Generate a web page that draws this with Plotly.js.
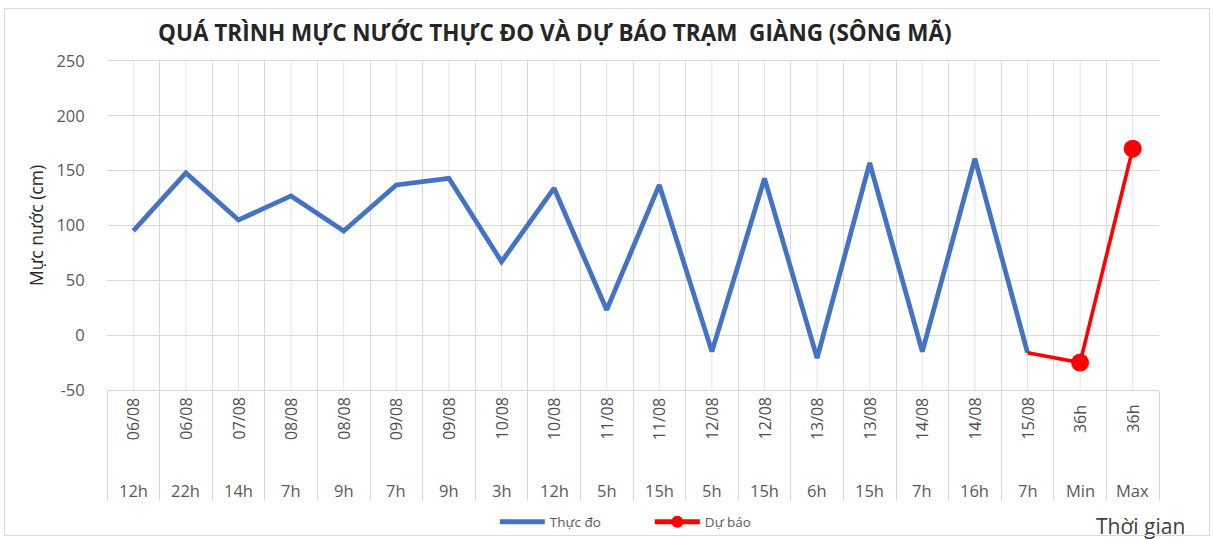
<!DOCTYPE html>
<html>
<head>
<meta charset="utf-8">
<script src="https://cdn.plot.ly/plotly-3.0.1.min.js"></script>
<style>
html,body{margin:0;padding:0;background:#fff;}
#wrap{position:relative;width:1214px;height:539px;}
#chart{width:1214px;height:539px;}
#frame{position:absolute;left:4px;top:8px;width:1206px;height:528px;border:1px solid #d9d9d9;box-sizing:border-box;pointer-events:none;}
</style>
</head>
<body>
<div id="wrap"><div id="chart"></div><div id="frame"></div></div>
<script>
// ---- data ----
const dates = ["06/08","06/08","07/08","08/08","08/08","09/08","09/08","10/08","10/08","11/08","11/08","12/08","12/08","13/08","13/08","14/08","14/08","15/08","36h","36h"];
const hours = ["12h","22h","14h","7h","9h","7h","9h","3h","12h","5h","15h","5h","15h","6h","15h","7h","16h","7h","Min","Max"];
const observed = [95,148,105,127,95,137,143,67,134,23,137,-15,143,-21,157,-15,161,-16,null,null];
const forecast = [null,null,null,null,null,null,null,null,null,null,null,null,null,null,null,null,null,-16,-25,170];
const yTicks = [-50,0,50,100,150,200,250];

const cats = dates.map((d,i)=>d+" "+hours[i]);
const FONT = "Open Sans, Noto Sans, sans-serif";

const traces = [
  {x:cats, y:observed, type:"scatter", mode:"lines", name:"Thực đo",
   line:{color:"#4472C4", width:4.8}, connectgaps:false},
  {x:cats, y:forecast, type:"scatter", mode:"lines+markers", name:"Dự báo",
   line:{color:"#FF0000", width:3.6},
   marker:{color:"#FF0000", opacity:1, line:{width:0}, size:forecast.map((v,i)=> (v===null||i===17)?0:18)}}
];

const shapes = cats.map(c=>({type:"line", xref:"x", yref:"paper", x0:c, x1:c, y0:0, y1:1,
  line:{color:"#e4e4e4", width:1}, layer:"below"}));

const annotations = [];
cats.forEach((c,i)=>{
  annotations.push({xref:"x", yref:"paper", x:c, y:-0.088, text:dates[i], showarrow:false,
    textangle:-90, font:{family:FONT, size:16, color:"#4d4d4d"}, xanchor:"center", yanchor:"middle"});
  annotations.push({xref:"x", yref:"paper", x:c, y:-0.304, text:hours[i], showarrow:false,
    font:{family:FONT, size:16.5, color:"#595959"}, xanchor:"center", yanchor:"middle"});
});
annotations.push({xref:"paper", yref:"paper", x:0.982, y:-0.412, text:"Thời gian", showarrow:false,
  font:{family:FONT, size:21, color:"#404040"}, xanchor:"center", yanchor:"middle"});

const layout = {
  width:1214, height:539,
  margin:{l:107, r:55, t:61, b:149, autoexpand:false},
  paper_bgcolor:"#fff", plot_bgcolor:"#fff",
  title:{text:"QUÁ TRÌNH MỰC NƯỚC THỰC ĐO VÀ DỰ BÁO TRẠM  GIÀNG (SÔNG MÃ)",
    font:{family:FONT, size:22.5, color:"#262626", weight:"bold"},
    xref:"container", x:0.457, xanchor:"center", yref:"container", y:1-33/539, yanchor:"middle"},
  xaxis:{type:"category", range:[-0.5, cats.length-0.5], showticklabels:false, tickson:"boundaries", ticks:"outside", ticklen:110,
    tickcolor:"#d9d9d9", tickwidth:1, showgrid:true, gridcolor:"#d9d9d9", gridwidth:1,
    showline:true, linecolor:"#d9d9d9", mirror:true, zeroline:false, fixedrange:true, automargin:false},
  yaxis:{range:[-50,250], tickvals:yTicks, ticktext:yTicks.map(String), showgrid:true, gridcolor:"#d9d9d9",
    zeroline:false, showline:false, ticks:"outside", ticklen:18, tickcolor:"rgba(0,0,0,0)", automargin:false,
    tickfont:{family:FONT, size:16.5, color:"#595959"},
    title:{text:"Mực nước (cm)", font:{family:FONT, size:17.5, color:"#262626"}, standoff:8}},
  showlegend:true,
  legend:{orientation:"h", x:0.516, xanchor:"center", yref:"container", y:(539-522)/539, yanchor:"middle",
    font:{family:FONT, size:13.5, color:"#595959"}, itemwidth:45, entrywidth:95, itemsizing:"constant"},
  shapes:shapes, annotations:annotations
};

Plotly.newPlot("chart", traces, layout, {displayModeBar:false, staticPlot:true});
</script>
</body>
</html>
